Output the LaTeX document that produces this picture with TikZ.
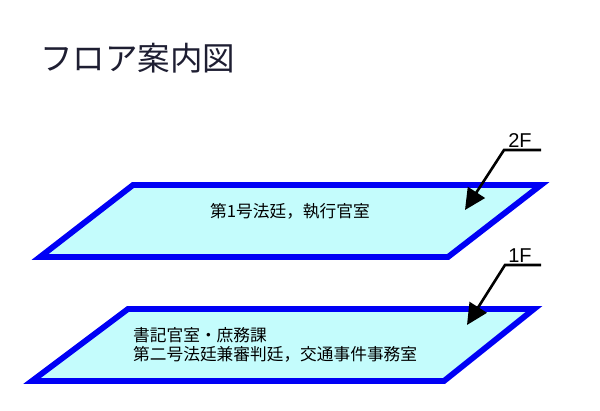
\documentclass[tikz,border=0pt]{standalone}
\usepackage{fontspec}
\setmainfont{Liberation Sans}
\newfontfamily\jpfont{Noto Sans CJK JP}
\definecolor{floorfill}{RGB}{196,252,252}
\definecolor{floorline}{RGB}{0,0,245}
\usetikzlibrary{arrows.meta}
\tikzset{
  floorplate/.style={draw=floorline,fill=floorfill,line width=5.8pt,miter limit=10,line join=miter},
  floortext/.style={inner sep=0pt,font=\jpfont\fontsize{16.7}{19}\selectfont,text=black},
  floortag/.style={inner sep=0pt,font=\fontsize{20}{22}\selectfont,text=black},
  pointer/.style={draw=black,line width=2.6pt,line join=miter,-{Triangle[length=21pt,width=20pt]}}
}
\begin{document}
\begin{tikzpicture}[x=1pt,y=-1pt]
\useasboundingbox (0,0) rectangle (600,411);
\node[anchor=west,inner sep=0pt,font=\jpfont\fontsize{32.5}{36}\selectfont,text={rgb,255:red,30;green,30;blue,50}] (title) at (40,58) {フロア案内図};
% 2F
\draw[floorplate] (40,257) -- (133,185) -- (541,185) -- (448,257) -- cycle;
\node[floortext] (upper) at (290,211) {第1号法廷，執行官室};
\node[floortag] (tag2) at (520,141) {2F};
\coordinate (e2) at (541,150);
\coordinate (b2) at (504,150);
\coordinate (t2) at (465,210);
\draw[pointer] (e2) -- (b2) -- (t2);
% 1F
\draw[floorplate] (32,381) -- (128,309) -- (534,309) -- (444,381) -- cycle;
\node[floortext,anchor=west,align=left] (lower) at (133,345) {書記官室・庶務課\\第二号法廷兼審判廷，交通事件事務室};
\node[floortag] (tag1) at (520,256) {1F};
\coordinate (e1) at (541,265);
\coordinate (b1) at (505,265);
\coordinate (t1) at (467,325);
\draw[pointer] (e1) -- (b1) -- (t1);
\end{tikzpicture}
\end{document}
